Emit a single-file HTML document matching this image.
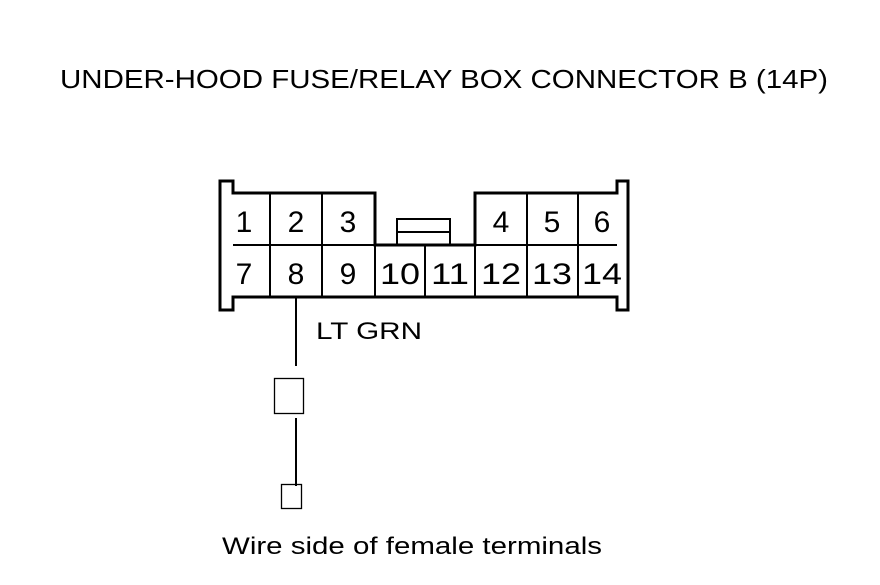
<!DOCTYPE html>
<html><head><style>
body{margin:0;background:#fff;width:880px;height:580px;overflow:hidden}
svg text{font-family:"Liberation Sans",Arial,sans-serif;fill:#000}
</style></head><body>
<svg width="880" height="580" xmlns="http://www.w3.org/2000/svg">
<text x="60" y="88" font-size="26" textLength="768" lengthAdjust="spacingAndGlyphs">UNDER-HOOD FUSE/RELAY BOX CONNECTOR B (14P)</text>
<g fill="none" stroke="#000" stroke-width="2">
<path d="M220,181 H233 V193 H375 V245 H475 V193 H617 V181 H628 V310 H617 V297 H233 V310 H220 Z" stroke-width="3"/>
<line x1="233" y1="245" x2="617" y2="245"/>
<line x1="270" y1="193" x2="270" y2="297"/>
<line x1="322" y1="193" x2="322" y2="297"/>
<line x1="375" y1="245" x2="375" y2="297"/>
<line x1="425" y1="245" x2="425" y2="297"/>
<line x1="475" y1="245" x2="475" y2="297"/>
<line x1="527" y1="193" x2="527" y2="297"/>
<line x1="578" y1="193" x2="578" y2="297"/>
<rect x="397" y="219" width="53" height="26"/>
<line x1="397" y1="232" x2="450" y2="232"/>
<line x1="296" y1="297" x2="296" y2="366"/>
<rect x="274.5" y="378.5" width="29" height="35" stroke-width="1.3"/>
<line x1="296" y1="418" x2="296" y2="486"/>
<rect x="281.5" y="484.5" width="20" height="24" stroke-width="1.3"/>
</g>
<g font-size="30" text-anchor="middle">
<text x="244" y="232">1</text><text x="296" y="232">2</text><text x="348" y="232">3</text>
<text x="501" y="232">4</text><text x="552" y="232">5</text><text x="602" y="232">6</text>
<text x="244" y="284">7</text><text x="296" y="284">8</text><text x="348" y="284">9</text>
<text x="400" y="284" textLength="40" lengthAdjust="spacingAndGlyphs">10</text>
<text x="450" y="284" textLength="38" lengthAdjust="spacingAndGlyphs">11</text>
<text x="501" y="284" textLength="40" lengthAdjust="spacingAndGlyphs">12</text>
<text x="552" y="284" textLength="40" lengthAdjust="spacingAndGlyphs">13</text>
<text x="602" y="284" textLength="40" lengthAdjust="spacingAndGlyphs">14</text>
</g>
<text x="316" y="339" font-size="24" textLength="106" lengthAdjust="spacingAndGlyphs">LT GRN</text>
<text x="222" y="554" font-size="24" textLength="380" lengthAdjust="spacingAndGlyphs">Wire side of female terminals</text>
</svg>
</body></html>
